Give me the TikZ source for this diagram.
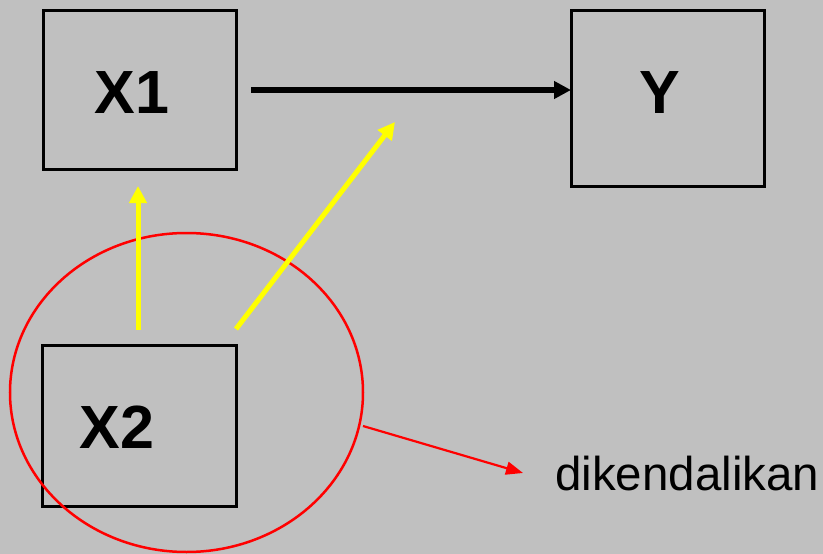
\documentclass[tikz,border=0pt]{standalone}
\usepackage{fontspec}
\setmainfont{Liberation Sans}
\usetikzlibrary{arrows.meta,shapes.geometric}
\definecolor{bg}{HTML}{C0C0C0}
\definecolor{yel}{HTML}{FFFF00}
\definecolor{rd}{HTML}{FF0000}
\begin{document}
\begin{tikzpicture}[x=1pt,y=-1pt,
  varbox/.style={draw=black,line width=3pt,inner sep=0pt},
  lbl/.style={font=\fontsize{61}{61}\selectfont\bfseries},
  blackarrow/.style={line width=5.5pt,-{Triangle[length=17pt,width=17pt]}},
  yelarrow/.style={yel,line width=5pt,-{Triangle[length=17pt,width=17pt]}},
  redarrow/.style={rd,line width=2.2pt,-{Triangle[length=17pt,width=13pt]}}]
\fill[bg] (0,0) rectangle (823,554);
\useasboundingbox (0,0) rectangle (823,554);
\node[varbox,minimum width=193pt,minimum height=159pt] (x1) at (139.5,89.5) {};
\node[varbox,minimum width=193pt,minimum height=176pt] (y) at (667.5,98) {};
\node[varbox,minimum width=194pt,minimum height=161pt] (x2) at (139,425.5) {};
\node[lbl] (x1t) at (132,93) {X1};
\node[lbl] (yt) at (660,93) {Y};
\node[lbl] (x2t) at (117,427) {X2};
\node[draw=rd,line width=2.5pt,ellipse,minimum width=353pt,minimum height=319pt,inner sep=0pt] (el) at (186.5,392.5) {};
\node[font=\fontsize{47.5}{47.5}\selectfont,anchor=base west,inner sep=0pt] (ctl) at (555,490) {dikendalikan};
\coordinate (a1s) at (251,90);
\coordinate (a1e) at (571,90);
\coordinate (y1s) at (138,330);
\coordinate (y1e) at (138,186);
\coordinate (y2s) at (236,329);
\coordinate (y2e) at (395,122);
\coordinate (rs) at (363,426);
\coordinate (re) at (523,473);
\draw[blackarrow] (a1s) -- (a1e);
\draw[yelarrow] (y1s) -- (y1e);
\draw[yelarrow] (y2s) -- (y2e);
\draw[redarrow] (rs) -- (re);
\end{tikzpicture}
\end{document}
